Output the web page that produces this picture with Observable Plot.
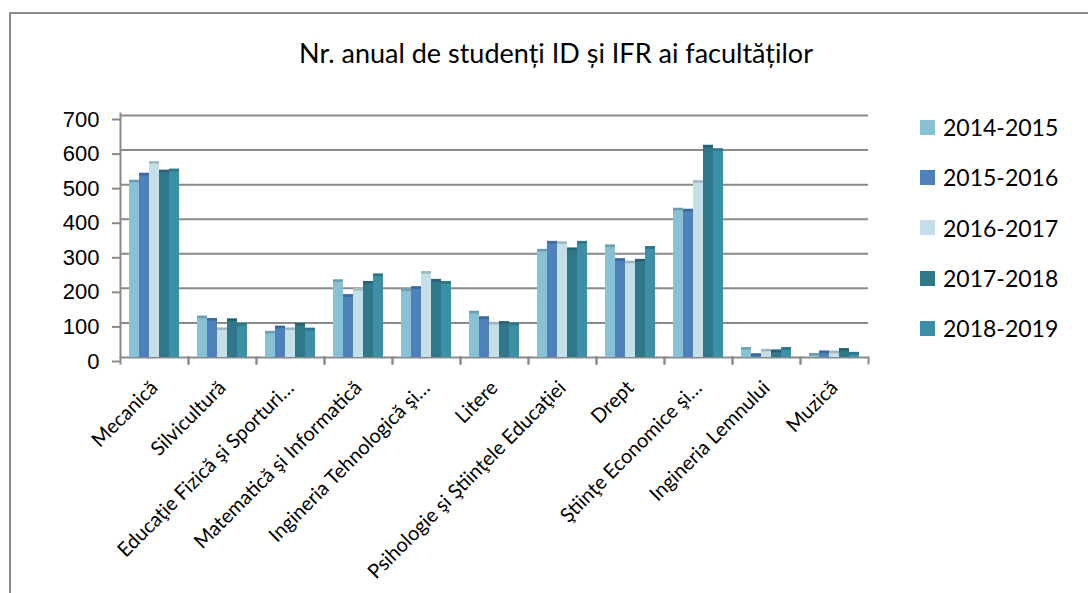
<!DOCTYPE html>
<html>
<head>
<meta charset="utf-8">
<script src="https://cdn.jsdelivr.net/npm/d3@7"></script>
<script src="https://cdn.jsdelivr.net/npm/@observablehq/plot@0.6"></script>
<style>
  html, body { margin: 0; padding: 0; background: #fff; }
  #wrap { position: relative; width: 1088px; height: 593px; overflow: hidden; background: #fff; }
  #border { position: absolute; left: 9px; top: 12px; width: 1100px; height: 600px; border-top: 2px solid #8a8a8a; border-left: 2px solid #8a8a8a; }
  #title { position: absolute; left: 0; width: 1112px; top: 36px; text-align: center; font-family: Lato, sans-serif; font-size: 27px; color: #000; }
  #chart { position: absolute; left: 0; top: 0; }
  #legend { position: absolute; left: 920px; top: 102px; font-family: Lato, sans-serif; font-size: 23px; color: #000; }
  .item { height: 50.3px; display: flex; align-items: center; }
  .sw { width: 15px; height: 15px; margin-right: 8px; }
</style>
</head>
<body>
<div id="wrap">
  <div id="border"></div>
  <div id="title">Nr. anual de studenți ID și IFR ai facultăților</div>
  <div id="chart"></div>
  <div id="legend"></div>
</div>
<script>
const categories = ["Mecanică", "Silvicultură", "Educaţie Fizică şi Sporturi…", "Matematică şi Informatică", "Ingineria Tehnologică şi…", "Litere", "Psihologie şi Ştiinţele Educaţiei", "Drept", "Ştiinţe Economice şi…", "Ingineria Lemnului", "Muzică"];
const years = ["2014-2015", "2015-2016", "2016-2017", "2017-2018", "2018-2019"];
const v2014_2015 = [513, 120, 76, 225, 199, 134, 313, 326, 432, 29, 12];
const v2015_2016 = [533, 113, 91, 182, 205, 118, 336, 286, 429, 11, 19];
const v2016_2017 = [567, 86, 86, 200, 249, 102, 335, 279, 512, 24, 19];
const v2017_2018 = [542, 112, 99, 220, 226, 104, 317, 284, 614, 22, 26];
const v2018_2019 = [545, 99, 85, 242, 220, 100, 336, 321, 604, 29, 15];
const yTicks = [0, 100, 200, 300, 400, 500, 600, 700];
const colors = ["#87c1d3", "#4f81bd", "#c5dfe9", "#31778a", "#3b8fa6"];

const series = [v2014_2015, v2015_2016, v2016_2017, v2017_2018, v2018_2019];
const data = categories.flatMap((c, i) => years.map((y, j) => ({category: c, year: y, value: series[j][i]})));

const chart = Plot.plot({
  width: 880,
  height: 593,
  marginLeft: 118,
  marginRight: 11,
  marginTop: 115,
  marginBottom: 236,
  style: {background: "transparent"},
  fx: {domain: categories, paddingInner: 0, paddingOuter: 0, label: null},
  x: {domain: years, paddingInner: 0, paddingOuter: 0.78, axis: null},
  y: {domain: [0, 700], label: null},
  color: {domain: years, range: colors},
  marks: [
    Plot.ruleY(yTicks, {stroke: "#8a8a8a", strokeWidth: 2}),
    Plot.barY(data, {fx: "category", x: "year", y: "value", fill: "year"}),
    Plot.tickY(data, {fx: "category", x: "year", y: "value", stroke: "#000", strokeOpacity: 0.18, strokeWidth: 2.5, dy: 1}),
    Plot.axisY({ticks: yTicks, tickSize: 8, tickPadding: 13, fontSize: 22, fontFamily: "Liberation Sans, Arial, sans-serif", stroke: "#8a8a8a", strokeWidth: 2, color: "#000", dy: 4, label: null}),
    Plot.frame({anchor: "left", facetAnchor: "left", stroke: "#8a8a8a", strokeWidth: 2, insetTop: -2}),
    Plot.frame({anchor: "left", insetTop: 242, insetBottom: -6, stroke: "#8a8a8a", strokeWidth: 2}),
    Plot.frame({anchor: "right", insetTop: 242, insetBottom: -6, stroke: "#8a8a8a", strokeWidth: 2}),
    Plot.axisFx({anchor: "bottom", tickRotate: -45, tickSize: 0, tickPadding: 27, fontSize: 20, fontFamily: "Lato, sans-serif", color: "#000", label: null})
  ]
});
document.getElementById("chart").appendChild(chart);

const legend = document.getElementById("legend");
years.forEach((y, i) => {
  const item = document.createElement("div");
  item.className = "item";
  const sw = document.createElement("div");
  sw.className = "sw";
  sw.style.background = colors[i];
  const t = document.createElement("span");
  t.textContent = y;
  item.appendChild(sw);
  item.appendChild(t);
  legend.appendChild(item);
});
</script>
</body>
</html>
